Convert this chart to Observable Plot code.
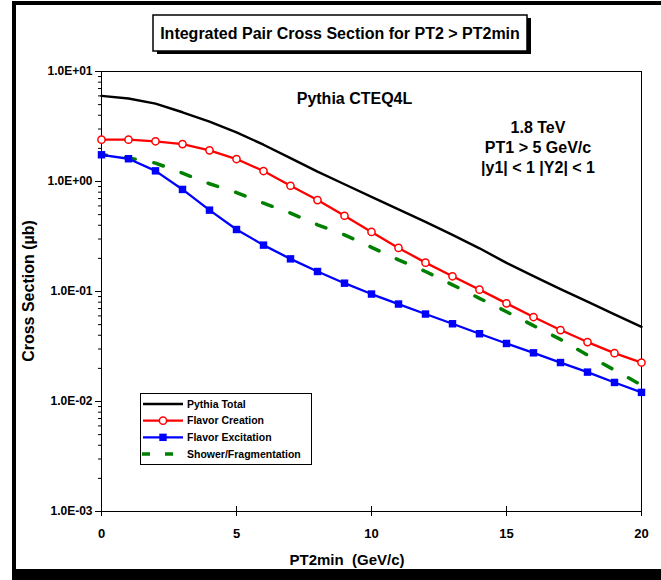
<!DOCTYPE html>
<html>
<head>
<meta charset="utf-8">
<script src="https://cdn.jsdelivr.net/npm/d3@7"></script>
<script src="https://cdn.jsdelivr.net/npm/@observablehq/plot@0.6"></script>
<style>
  body { margin: 0; background: #fff; }
  #wrap { position: relative; width: 661px; height: 580px; overflow: hidden; background: #fff; }
  #wrap > svg { position: absolute; left: 0; top: 0; }
  #border { position: absolute; left: 12px; top: 1px; width: 700px; height: 579px; box-sizing: border-box;
            border-left: 4px solid #000; border-top: 4px solid #000; border-bottom: 11px solid #000; }
  .ann text { font-family: "Liberation Sans", Arial, Helvetica, sans-serif; font-weight: bold; fill: #000; }
</style>
</head>
<body>
<div id="wrap"><div id="border"></div></div>
<script>
// Integrated pair cross section (µb) versus the PT2min cut, Pythia CTEQ4L at 1.8 TeV
const pt2min = [0, 1, 2, 3, 4, 5, 6, 7, 8, 9, 10, 11, 12, 13, 14, 15, 16, 17, 18, 19, 20];
const pythiaTotal = [6.00, 5.68, 5.11, 4.26, 3.50, 2.80, 2.16, 1.63, 1.23, 0.944, 0.726,
  0.558, 0.430, 0.327, 0.247, 0.182, 0.138, 0.105, 0.081, 0.062, 0.0477];
const flavorCreation = [2.40, 2.40, 2.32, 2.19, 1.92, 1.60, 1.245, 0.915, 0.678, 0.488, 0.348,
  0.249, 0.183, 0.1375, 0.104, 0.078, 0.0586, 0.0446, 0.0347, 0.0275, 0.0226];
const flavorExcitation = [1.75, 1.61, 1.25, 0.847, 0.549, 0.366, 0.264, 0.198, 0.152, 0.119, 0.0948,
  0.0769, 0.0624, 0.0509, 0.0413, 0.0337, 0.0277, 0.0226, 0.0185, 0.0149, 0.0121];
const showerFragmentation = [1.75, 1.64, 1.47, 1.19, 0.954, 0.794, 0.636, 0.516, 0.404, 0.327, 0.252,
  0.194, 0.152, 0.115, 0.0867, 0.0655, 0.0489, 0.0367, 0.0264, 0.0193, 0.0141];

const yTickValues = [1e-3, 1e-2, 1e-1, 1, 10];
const yTickLabels = ["1.0E-03", "1.0E-02", "1.0E-01", "1.0E+00", "1.0E+01"];
const xTickValues = [0, 5, 10, 15, 20];

const seriesNames = ["Pythia Total", "Flavor Creation", "Flavor Excitation", "Shower/Fragmentation"];

const rows = (vals) => pt2min.map((x, i) => ({x, y: vals[i]}));

// minor ticks at 2..9 within each decade
const minorTicks = [];
for (let e = -3; e < 1; e++) for (let m = 2; m <= 9; m++) minorTicks.push(m * Math.pow(10, e));

const font = '"Liberation Sans", Arial, Helvetica, sans-serif';

const chart = Plot.plot({
  width: 661,
  height: 580,
  marginLeft: 101,
  marginRight: 20,
  marginTop: 71,
  marginBottom: 69,
  style: {fontFamily: font, fontWeight: "bold", background: "transparent", color: "#000", overflow: "visible"},
  x: {domain: [0, 20]},
  y: {type: "log", domain: [1e-3, 10]},
  marks: [
    Plot.axisY({ticks: minorTicks, tickSize: 3, tickFormat: () => "", label: null}),
    Plot.axisY({ticks: yTickValues, tickSize: 6, tickPadding: 3, fontSize: 12,
      tickFormat: (d) => yTickLabels[yTickValues.indexOf(d)], label: null}),
    Plot.axisX({ticks: xTickValues, tickSize: 10, dy: -5, tickFormat: () => "", label: null}),
    Plot.axisX({ticks: xTickValues, tickSize: 0, tickPadding: 17, fontSize: 13, label: null}),
    Plot.frame({stroke: "#000", strokeWidth: 1}),
    Plot.line(rows(pythiaTotal), {x: "x", y: "y", stroke: "#000", strokeWidth: 2.4}),
    Plot.line(rows(showerFragmentation), {x: "x", y: "y", stroke: "#008000", strokeWidth: 3.5,
      strokeDasharray: "10,19", strokeDashoffset: 5}),
    Plot.line(rows(flavorExcitation), {x: "x", y: "y", stroke: "#0000ff", strokeWidth: 2.3}),
    Plot.dot(rows(flavorExcitation), {x: "x", y: "y", symbol: "square", r: 4.2, fill: "#0000ff"}),
    Plot.line(rows(flavorCreation), {x: "x", y: "y", stroke: "#ff0000", strokeWidth: 2.3}),
    Plot.dot(rows(flavorCreation), {x: "x", y: "y", r: 3.6, fill: "#fff", stroke: "#ff0000", strokeWidth: 1.5})
  ]
});

const wrap = document.getElementById("wrap");
wrap.appendChild(chart);

// titles, notes and legend drawn on a layer above the chart
const ann = d3.select(wrap).append("svg")
  .attr("class", "ann")
  .attr("width", 661).attr("height", 580)
  .style("position", "absolute").style("left", 0).style("top", 0);

// title box with shadow
ann.append("rect").attr("x", 157).attr("y", 18).attr("width", 374).attr("height", 36).attr("fill", "#000");
ann.append("rect").attr("x", 153).attr("y", 15).attr("width", 374).attr("height", 36)
  .attr("fill", "#fff").attr("stroke", "#000").attr("stroke-width", 1.5);
ann.append("text").attr("x", 340).attr("y", 39).attr("text-anchor", "middle").attr("font-size", 16)
  .text("Integrated Pair Cross Section for PT2 > PT2min");

ann.append("text").attr("x", 354.5).attr("y", 104).attr("text-anchor", "middle").attr("font-size", 16)
  .text("Pythia CTEQ4L");
const notes = ["1.8 TeV", "PT1 > 5 GeV/c", "|y1| < 1 |Y2| < 1"];
notes.forEach((t, i) => {
  ann.append("text").attr("x", 538).attr("y", 133.3 + i * 19.7).attr("text-anchor", "middle")
    .attr("font-size", 16).text(t);
});

// axis titles
ann.append("text").attr("transform", "translate(34,291) rotate(-90)").attr("text-anchor", "middle")
  .attr("font-size", 16).text("Cross Section (µb)");
ann.append("text").attr("x", 347).attr("y", 564.5).attr("text-anchor", "middle").attr("font-size", 15)
  .style("white-space", "pre").text("PT2min  (GeV/c)");

// legend
const lg = ann.append("g");
lg.append("rect").attr("x", 140.5).attr("y", 393.5).attr("width", 171).attr("height", 71)
  .attr("fill", "#fff").attr("stroke", "#000").attr("stroke-width", 1);
const rowY = (i) => 404 + i * 16.67;
seriesNames.forEach((name, i) => {
  lg.append("text").attr("x", 187).attr("y", rowY(i) + 3.8).attr("font-size", 10.5).text(name);
});
lg.append("line").attr("x1", 143).attr("x2", 183).attr("y1", rowY(0)).attr("y2", rowY(0))
  .attr("stroke", "#000").attr("stroke-width", 2.4);
lg.append("line").attr("x1", 143).attr("x2", 183).attr("y1", rowY(1)).attr("y2", rowY(1))
  .attr("stroke", "#ff0000").attr("stroke-width", 2.3);
lg.append("circle").attr("cx", 163).attr("cy", rowY(1)).attr("r", 3.6)
  .attr("fill", "#fff").attr("stroke", "#ff0000").attr("stroke-width", 1.5);
lg.append("line").attr("x1", 143).attr("x2", 183).attr("y1", rowY(2)).attr("y2", rowY(2))
  .attr("stroke", "#0000ff").attr("stroke-width", 2.3);
lg.append("rect").attr("x", 159.3).attr("y", rowY(2) - 3.7).attr("width", 7.4).attr("height", 7.4)
  .attr("fill", "#0000ff");
lg.append("line").attr("x1", 142).attr("x2", 174).attr("y1", rowY(3)).attr("y2", rowY(3))
  .attr("stroke", "#008000").attr("stroke-width", 3.5).attr("stroke-dasharray", "8,15");
</script>
</body>
</html>
